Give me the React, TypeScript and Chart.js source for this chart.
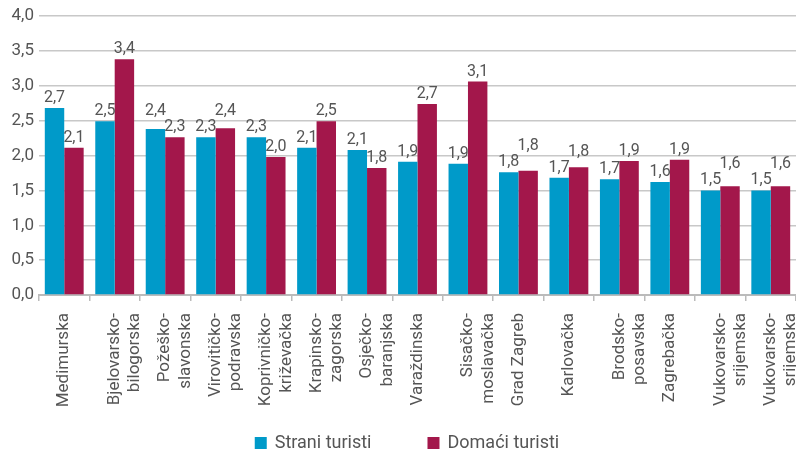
import React, { useEffect, useRef } from "react";
import { Chart, registerables } from "chart.js";

Chart.register(...registerables);

const categories: (string | string[])[] = [
  "Medimurska",
  ["Bjelovarsko-", "bilogorska"],
  ["Požeško-", "slavonska"],
  ["Virovitičko-", "podravska"],
  ["Koprivničko-", "križevačka"],
  ["Krapinsko-", "zagorska"],
  ["Osječko-", "baranjska"],
  "Varaždinska",
  ["Sisačko-", "moslavačka"],
  "Grad Zagreb",
  "Karlovačka",
  ["Brodsko-", "posavska"],
  "Zagrebačka",
  ["Vukovarsko-", "srijemska"],
  ["Vukovarsko-", "srijemska"],
];

const straniTuristi = [2.68, 2.49, 2.38, 2.26, 2.26, 2.11, 2.08, 1.91, 1.88, 1.76, 1.68, 1.66, 1.62, 1.5, 1.5];
const domaciTuristi = [2.11, 3.38, 2.26, 2.39, 1.98, 2.49, 1.82, 2.74, 3.06, 1.78, 1.83, 1.92, 1.94, 1.56, 1.56];

const seriesNames = ["Strani turisti", "Domaći turisti"];
const seriesColors = ["#009ac9", "#a3174b"];

const TEXT = "#555555";
const FONT = "Roboto, 'Liberation Sans', sans-serif";

const fmt = (v: number) => v.toFixed(1).replace(".", ",");

const valueLabels = {
  id: "valueLabels",
  afterDatasetsDraw(chart: any) {
    const ctx = chart.ctx;
    ctx.save();
    ctx.font = `16px ${FONT}`;
    ctx.fillStyle = TEXT;
    ctx.textAlign = "center";
    ctx.textBaseline = "middle";
    const m0 = chart.getDatasetMeta(0);
    const m1 = chart.getDatasetMeta(1);
    const d0 = chart.data.datasets[0].data;
    const d1 = chart.data.datasets[1].data;
    const off = 10;
    const sep = 16;
    m0.data.forEach((el0: any, i: number) => {
      const el1 = m1.data[i];
      let y0 = el0.y - off;
      let y1 = el1.y - off;
      if (Math.abs(y0 - y1) < sep) {
        if (y0 < y1) y0 = y1 - sep;
        else y1 = y0 - sep;
      }
      ctx.fillText(fmt(d0[i]), el0.x, y0);
      ctx.fillText(fmt(d1[i]), el1.x, y1);
    });
    ctx.restore();
  },
};

const customLegend = {
  id: "customLegend",
  afterDraw(chart: any) {
    const ctx = chart.ctx;
    ctx.save();
    ctx.font = `18px ${FONT}`;
    ctx.textBaseline = "middle";
    ctx.textAlign = "left";
    const box = 12;
    const gap = 8;
    const between = 56;
    const widths = seriesNames.map((n) => box + gap + ctx.measureText(n).width);
    const total = widths.reduce((a, b) => a + b, 0) + between * (widths.length - 1);
    let x = 407 - total / 2;
    const cy = chart.height - 11;
    seriesNames.forEach((n, i) => {
      ctx.fillStyle = seriesColors[i];
      ctx.fillRect(x, cy - box / 2, box, box);
      ctx.fillStyle = TEXT;
      ctx.fillText(n, x + box + gap, cy);
      x += widths[i] + between;
    });
    ctx.restore();
  },
};

export default function App() {
  const ref = useRef<HTMLCanvasElement>(null);
  useEffect(() => {
    document.body.style.margin = "0";
    if (!ref.current) return;
    const chart = new Chart(ref.current, {
      type: "bar",
      data: {
        labels: categories,
        datasets: [
          { label: seriesNames[0], data: straniTuristi, backgroundColor: seriesColors[0] },
          { label: seriesNames[1], data: domaciTuristi, backgroundColor: seriesColors[1] },
        ],
      },
      options: {
        animation: false,
        responsive: true,
        maintainAspectRatio: false,
        layout: { padding: { top: 16, right: -6, left: 0, bottom: 0 } },
        datasets: { bar: { categoryPercentage: 0.77, barPercentage: 1 } },
        plugins: { legend: { display: false }, tooltip: { enabled: false } },
        font: { family: FONT },
        scales: {
          x: {
            offset: true,
            grid: { display: true, drawOnChartArea: false, offset: true, tickLength: 6, color: "#bbbbbb", lineWidth: 1.5 },
            border: { display: true, color: "#bbbbbb", width: 2 },
            ticks: {
              minRotation: 90,
              maxRotation: 90,
              autoSkip: false,
              padding: 12,
              color: TEXT,
              font: { size: 17, family: FONT },
            },
            afterFit(scale: any) {
              scale.height = 159;
              scale.paddingLeft = 0;
              scale.paddingRight = 0;
            },
          },
          y: {
            min: 0,
            max: 4,
            ticks: {
              stepSize: 0.5,
              padding: 5,
              color: TEXT,
              font: { size: 17, family: FONT },
              callback: (v: any) => fmt(Number(v)),
            },
            grid: { color: "#c8c8c8", lineWidth: 1.5, drawTicks: false },
            border: { display: false },
            afterFit(scale: any) {
              scale.width = 39;
              scale.paddingTop = 0;
              scale.paddingBottom = 0;
            },
          },
        },
      },
      plugins: [valueLabels, customLegend],
    } as any);
    return () => chart.destroy();
  }, []);
  return (
    <div style={{ position: "absolute", left: 0, top: 0, width: 796, height: 454 }}>
      <canvas ref={ref} />
    </div>
  );
}
